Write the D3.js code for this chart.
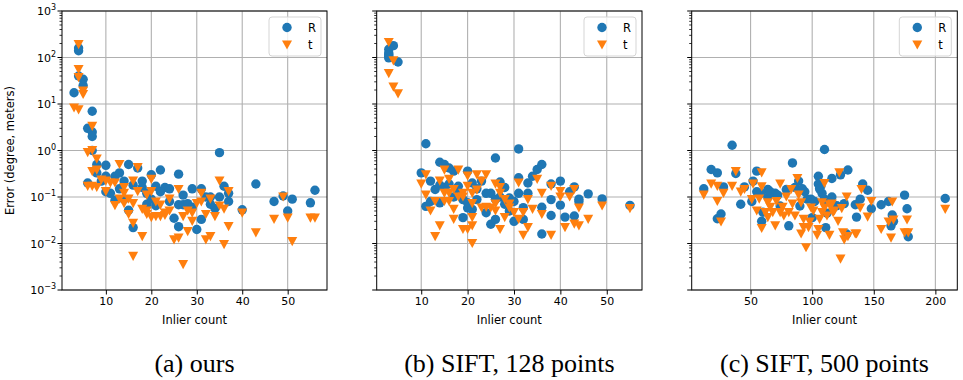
<!DOCTYPE html>
<html><head><meta charset="utf-8">
<script src="https://cdn.jsdelivr.net/npm/d3@7"></script>
<style>body{margin:0;background:#fff}svg{display:block}</style>
</head><body>
<svg id="c" width="963" height="380"></svg>
<script>
// ---------- data ----------
const captions = ["(a) ours", "(b) SIFT, 128 points", "(c) SIFT, 500 points"];
const xTicks1 = [10, 20, 30, 40, 50];
const xTicks2 = [10, 20, 30, 40, 50];
const xTicks3 = [50, 100, 150, 200];
const yTickExps = [-3, -2, -1, 0, 1, 2, 3];
const legendLabels = ["R", "t"];
const xLabel = "Inlier count";
const yLabel = "Error (degree, meters)";

const oursR = [[3,17.5],[4,160],[4,140],[4,40],[5,34],[5,25],[7,7],[6,3],[7,2.5],[7,2],[7,1.0],
[6,0.2],[8,0.5],[8,0.33],[10,0.48],[10,0.28],[10,0.13],[12,0.28],[12,0.085],[13,0.33],[14,0.22],
[15,0.5],[15,0.052],[16,0.022],[17,0.42],[18,0.22],[19,0.07],[20,0.3],[21,0.17],[21,0.065],[22,0.38],
[23,0.16],[24,0.15],[25,0.035],[26,0.31],[26,0.068],[26,0.023],[27,0.11],[27,0.068],[28,0.072],[29,0.15],
[30,0.02],[31,0.15],[31,0.033],[32,0.1],[33,0.1],[34,0.057],[35,0.9],[35,0.1],[36,0.17],[37,0.08],[37,0.12],
[40,0.053],[43,0.19],[47,0.08],[49,0.105],[50,0.05],[51,0.09],[55,0.075],[56,0.14],
[9,0.22],[11,0.12],[13,0.15],[14,0.09],[16,0.18],[18,0.16],[19,0.12],[20,0.09],[22,0.13],[24,0.08],[29,0.06],[33,0.07]];
const oursT = [[3,8.2],[4,7.5],[4,190],[4,55],[4,37],[5,19],[5,16],[6,0.9],[7,3.3],[7,1.0],[8,0.65],
[7,0.35],[8,0.38],[6,0.17],[7,0.17],[8,0.16],[9,0.23],[10,0.22],[10,0.13],[12,0.2],[12,0.065],[13,0.5],
[13,0.09],[14,0.16],[14,0.072],[15,0.09],[15,0.042],[16,0.22],[16,0.072],[16,0.027],[16,0.0053],[17,0.43],
[17,0.13],[18,0.054],[18,0.014],[19,0.11],[19,0.042],[20,0.24],[20,0.13],[20,0.036],[21,0.078],[21,0.038],
[22,0.067],[22,0.038],[23,0.045],[24,0.09],[24,0.05],[25,0.012],[26,0.145],[26,0.013],[27,0.038],[27,0.0035],
[28,0.018],[29,0.045],[29,0.03],[30,0.072],[31,0.078],[31,0.12],[32,0.042],[32,0.012],[33,0.09],[33,0.014],
[34,0.038],[35,0.22],[35,0.064],[36,0.055],[36,0.0095],[37,0.13],[37,0.023],[40,0.045],[43,0.017],[47,0.033],
[49,0.1],[50,0.035],[51,0.011],[55,0.035],[56,0.035],[11,0.2],[14,0.12],[19,0.05],[23,0.04],[28,0.05]];

const sift128R = [[3,150],[3,125],[3,107],[3,98],[4,180],[5,80],[3,115],[11,1.4],[10,0.33],[11,0.063],[12,0.22],
[13,0.145],[14,0.56],[15,0.5],[16,0.42],[17,0.36],[14,0.075],[15,0.16],[16,0.19],[18,0.17],[19,0.036],[19,0.088],
[20,0.36],[20,0.058],[20,0.075],[21,0.054],[21,0.2],[22,0.088],[23,0.22],[24,0.046],[25,0.026],[25,0.12],[26,0.69],
[26,0.033],[27,0.21],[27,0.1],[28,0.16],[29,0.095],[30,0.03],[30,0.08],[31,1.08],[31,0.26],[31,0.12],[32,0.059],
[32,0.033],[33,0.2],[33,0.12],[34,0.28],[35,0.39],[36,0.5],[36,0.06],[36,0.016],[38,0.19],[38,0.088],[38,0.04],
[40,0.22],[40,0.067],[41,0.037],[42,0.13],[43,0.165],[43,0.039],[44,0.09],[44,0.08],[46,0.117],[49,0.091],[55,0.066],
[12,0.08],[14,0.18],[17,0.1],[18,0.12],[22,0.15],[24,0.12],[26,0.09],[28,0.07],[29,0.05]];
const sift128T = [[3,210],[3,45],[4,23],[4,85],[5,16.5],[10,0.19],[11,0.3],[11,0.11],[12,0.05],[13,0.08],[13,0.014],
[14,0.22],[14,0.024],[15,0.38],[15,0.08],[15,0.12],[16,0.24],[16,0.08],[17,0.145],[17,0.054],[17,0.033],[18,0.38],
[19,0.12],[19,0.02],[20,0.28],[20,0.17],[20,0.02],[21,0.12],[21,0.072],[21,0.036],[21,0.01],[21,0.024],[22,0.3],
[23,0.22],[23,0.058],[24,0.3],[25,0.058],[26,0.19],[26,0.05],[27,0.16],[27,0.02],[28,0.088],[28,0.036],[29,0.058],
[30,0.046],[31,0.2],[31,0.033],[32,0.046],[32,0.015],[33,0.088],[33,0.022],[34,0.054],[35,0.24],[36,0.12],[36,0.042],
[38,0.17],[38,0.015],[40,0.13],[40,0.1],[41,0.022],[42,0.1],[43,0.145],[43,0.026],[44,0.024],[44,0.058],[46,0.033],
[49,0.064],[55,0.056],[16,0.12],[18,0.1],[19,0.1],[22,0.14],[24,0.06],[26,0.07],[27,0.12],[29,0.07]];

const sift500R = [[12,0.15],[18,0.39],[23,0.33],[23,0.034],[26,0.043],[28,0.165],[35,1.3],[38,0.32],[42,0.07],[45,0.165],
[52,0.22],[55,0.36],[51,0.08],[55,0.13],[60,0.047],[59,0.03],[64,0.145],[64,0.1],[70,0.12],[74,0.064],[79,0.145],
[81,0.024],[84,0.54],[86,0.16],[89,0.22],[90,0.064],[94,0.13],[96,0.09],[99,0.09],[100,0.036],[105,0.28],[105,0.19],
[107,0.17],[108,0.12],[110,1.05],[110,0.09],[111,0.022],[112,0.045],[116,0.25],[116,0.1],[120,0.065],[123,0.3],
[126,0.072],[129,0.38],[128,0.016],[135,0.068],[136,0.037],[141,0.19],[139,0.09],[145,0.14],[148,0.056],[156,0.068],
[162,0.08],[165,0.041],[164,0.024],[166,0.03],[175,0.11],[177,0.056],[178,0.014],[208,0.093],
[58,0.12],[66,0.13],[72,0.11],[92,0.15],[102,0.08],[106,0.15],[113,0.08]];
const sift500T = [[12,0.11],[18,0.19],[23,0.17],[23,0.08],[26,0.029],[28,0.12],[35,0.17],[38,0.35],[42,0.127],[45,0.145],
[52,0.19],[51,0.088],[55,0.05],[57,0.09],[59,0.33],[59,0.165],[59,0.021],[62,0.046],[64,0.075],[64,0.036],[68,0.046],
[70,0.024],[71,0.08],[74,0.19],[74,0.046],[77,0.039],[79,0.1],[81,0.046],[83,0.145],[86,0.039],[88,0.25],[89,0.11],
[91,0.075],[91,0.016],[93,0.033],[93,0.022],[95,0.0081],[97,0.022],[98,0.029],[99,0.058],[104,0.015],[105,0.02],
[106,0.033],[108,0.046],[108,0.075],[110,0.195],[110,0.058],[112,0.039],[114,0.015],[114,0.068],[117,0.046],[121,0.03],
[122,0.33],[123,0.0046],[124,0.056],[125,0.017],[126,0.012],[128,0.1],[129,0.014],[135,0.016],[136,0.016],[140,0.145],
[139,0.058],[145,0.037],[148,0.08],[156,0.02],[162,0.029],[164,0.013],[165,0.078],[166,0.032],[175,0.017],[177,0.032],
[178,0.017],[208,0.054],[66,0.06],[76,0.06],[84,0.07],[101,0.05],[116,0.07],[118,0.05]];

// ---------- drawing ----------
const svg = d3.select("#c");
const blue = "#1f77b4", orange = "#ff7f0e";
const yTop = 11, yBot = 290;
const panels = [
  {left: 62, right: 327, xd: [0.35, 58.65], ticks: xTicks1, R: oursR, T: oursT, ylab: true, cap: captions[0]},
  {left: 376.7, right: 642, xd: [0.4, 57.6], ticks: xTicks2, R: sift128R, T: sift128T, ylab: false, cap: captions[1]},
  {left: 691.7, right: 957.3, xd: [2.2, 217.8], ticks: xTicks3, R: sift500R, T: sift500T, ylab: false, cap: captions[2]}
];
const tri = "M-5,-4.6L5,-4.6L0,4.6Z";

panels.forEach(p => {
  const x = d3.scaleLinear().domain(p.xd).range([p.left, p.right]);
  const y = d3.scaleLog().domain([1e-3, 1e3]).range([yBot, yTop]);
  const g = svg.append("g");
  // grid
  p.ticks.forEach(t => g.append("line").attr("x1", x(t)).attr("x2", x(t)).attr("y1", yTop).attr("y2", yBot)
    .attr("stroke", "#b0b0b0").attr("stroke-width", 1.1));
  yTickExps.forEach(e => g.append("line").attr("x1", p.left).attr("x2", p.right).attr("y1", y(Math.pow(10,e))).attr("y2", y(Math.pow(10,e)))
    .attr("stroke", "#b0b0b0").attr("stroke-width", 1.1));
  // points
  const clip = "clip" + Math.round(p.left);
  svg.append("clipPath").attr("id", clip).append("rect").attr("x", p.left).attr("y", yTop).attr("width", p.right - p.left).attr("height", yBot - yTop);
  const pts = g.append("g").attr("clip-path", `url(#${clip})`);
  pts.selectAll("circle").data(p.R).join("circle").attr("cx", d => x(d[0])).attr("cy", d => y(d[1])).attr("r", 4.7).attr("fill", blue);
  pts.selectAll("path").data(p.T).join("path").attr("d", tri).attr("transform", d => `translate(${x(d[0])},${y(d[1])})`).attr("fill", orange);
  // x axis
  const xa = g.append("g").attr("transform", `translate(0,${yBot})`)
    .call(d3.axisBottom(x).tickValues(p.ticks).tickSize(4.5).tickPadding(3).tickFormat(d3.format("d")));
  xa.select(".domain").remove();
  xa.selectAll("text").attr("font-family", "DejaVu Sans").attr("font-size", 11).attr("fill", "#000");
  xa.selectAll("line").attr("stroke-width", 1);
  // y ticks
  const minor = [];
  for (let e = -3; e < 3; e++) for (let k = 2; k <= 9; k++) minor.push(k * Math.pow(10, e));
  minor.forEach(v => g.append("line").attr("x1", p.left).attr("x2", p.left - 2.5).attr("y1", y(v)).attr("y2", y(v)).attr("stroke", "#000").attr("stroke-width", 0.8));
  yTickExps.forEach(e => {
    const yy = y(Math.pow(10, e));
    g.append("line").attr("x1", p.left).attr("x2", p.left - 4.5).attr("y1", yy).attr("y2", yy).attr("stroke", "#000").attr("stroke-width", 1);
    if (p.ylab) {
      const t = g.append("text").attr("x", p.left - 6).attr("y", yy + 4).attr("text-anchor", "end")
        .attr("font-family", "DejaVu Sans").attr("font-size", 11);
      t.append("tspan").text("10");
      t.append("tspan").attr("dy", -5).attr("font-size", 8).text(e < 0 ? "\u2212" + (-e) : String(e));
    }
  });
  // spines
  g.append("rect").attr("x", p.left).attr("y", yTop).attr("width", p.right - p.left).attr("height", yBot - yTop)
    .attr("fill", "none").attr("stroke", "#000").attr("stroke-width", 1);
  // labels
  g.append("text").attr("x", (p.left + p.right) / 2).attr("y", 324).attr("text-anchor", "middle")
    .attr("font-family", "DejaVu Sans").attr("font-size", 11.5).text(xLabel);
  g.append("text").attr("x", (p.left + p.right) / 2).attr("y", 372).attr("text-anchor", "middle")
    .attr("font-family", "'Liberation Serif', 'Times New Roman', serif").attr("font-size", 26).text(p.cap);
  // legend
  const lx = p.right - 58, ly = yTop + 6;
  g.append("rect").attr("x", lx).attr("y", ly).attr("width", 52).attr("height", 39).attr("rx", 3)
    .attr("fill", "#fff").attr("fill-opacity", 0.8).attr("stroke", "#d5d5d5").attr("stroke-width", 1);
  g.append("circle").attr("cx", lx + 18).attr("cy", ly + 10.5).attr("r", 4.7).attr("fill", blue);
  g.append("path").attr("d", tri).attr("transform", `translate(${lx + 18},${ly + 28})`).attr("fill", orange);
  g.append("text").attr("x", lx + 39).attr("y", ly + 14.5).attr("font-family", "DejaVu Sans").attr("font-size", 11.5).text(legendLabels[0]);
  g.append("text").attr("x", lx + 39).attr("y", ly + 32).attr("font-family", "DejaVu Sans").attr("font-size", 11.5).text(legendLabels[1]);
});
svg.append("text").attr("transform", `translate(14,${(yTop + yBot) / 2}) rotate(-90)`).attr("text-anchor", "middle")
  .attr("font-family", "DejaVu Sans").attr("font-size", 11.5).text(yLabel);
</script>
</body></html>
